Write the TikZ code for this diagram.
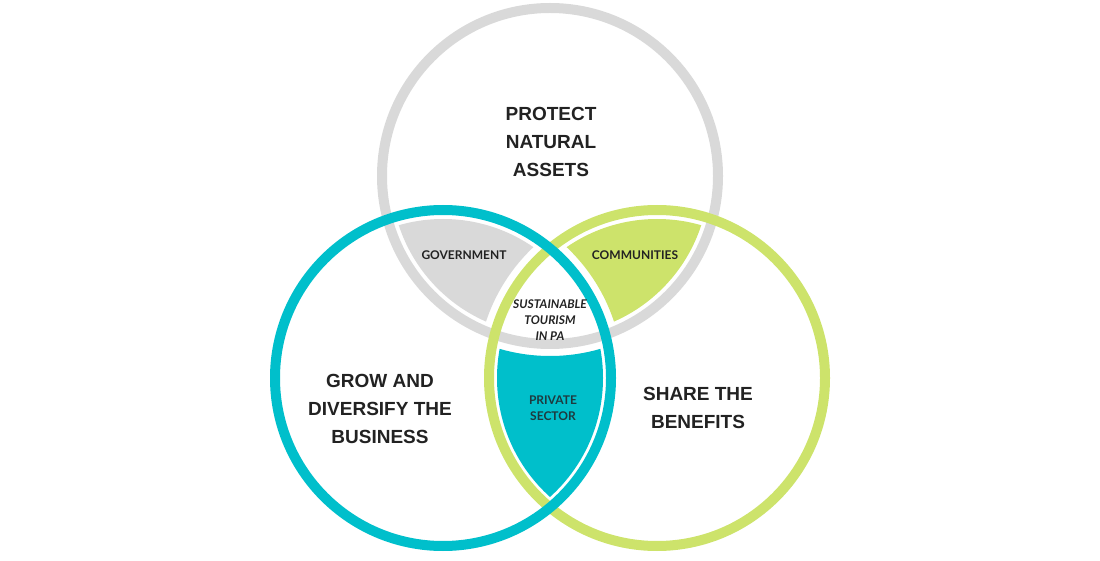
\documentclass[tikz,border=0pt]{standalone}
\usepackage{fontspec}
\setmainfont{Liberation Sans}
\newfontfamily\latofont{Lato}
\definecolor{ringgray}{HTML}{D9D9D9}
\definecolor{ringteal}{HTML}{00BFCB}
\definecolor{ringgreen}{HTML}{CDE36B}
\definecolor{labeltext}{HTML}{222222}
\definecolor{sectortext}{HTML}{1E3A3F}

\begin{document}
\begin{tikzpicture}[x=1pt, y=1pt,
    ring/.style={line width=10pt},
    goal/.style={align=center, text=labeltext, font=\fontsize{19}{28}\selectfont\bfseries},
    actor/.style={align=center, text=labeltext, font=\latofont\fontsize{12}{16}\selectfont\bfseries}]
    \useasboundingbox (0,0) rectangle (1100,560);

    % Circle centres
    \coordinate (protect) at (550,384);
    \coordinate (grow) at (443,182);
    \coordinate (share) at (657,182);

    % Government: protect and grow, outside share
    \begin{scope}[even odd rule]
        \clip (protect) circle (159);
        \clip (grow) circle (159);
        \clip (0,0) rectangle (1100,560) (share) circle (180);
        \fill[ringgray] (0,0) rectangle (1100,560);
    \end{scope}

    % Communities: protect and share, outside grow
    \begin{scope}[even odd rule]
        \clip (protect) circle (159);
        \clip (share) circle (159);
        \clip (0,0) rectangle (1100,560) (grow) circle (180);
        \fill[ringgreen] (0,0) rectangle (1100,560);
    \end{scope}

    % Private sector: grow and share, outside protect
    \begin{scope}[even odd rule]
        \clip (grow) circle (160);
        \clip (share) circle (160);
        \clip (0,0) rectangle (1100,560) (protect) circle (180);
        \fill[ringteal] (0,0) rectangle (1100,560);
    \end{scope}

    % Rings
    \draw[ring, ringgray] (protect) circle (168);
    \draw[ring, ringgreen] (share) circle (168);
    \draw[ring, ringteal] (grow) circle (168);

    % Goals
    \node[goal] (natural) at (551,418) {PROTECT\\NATURAL\\ASSETS};
    \node[goal] (business) at (380,151) {GROW AND\\DIVERSIFY THE\\BUSINESS};
    \node[goal] (benefits) at (698,152) {SHARE THE\\BENEFITS};

    % Actors
    \node[actor] (government) at (464,305) {GOVERNMENT};
    \node[actor] (communities) at (635,305) {COMMUNITIES};
    \node[actor, text=sectortext] (private) at (553,152) {PRIVATE\\SECTOR};
    \node[actor, font=\latofont\fontsize{12}{16}\selectfont\bfseries\itshape] (tourism) at (550,240) {SUSTAINABLE\\TOURISM\\IN PA};
\end{tikzpicture}
\end{document}
